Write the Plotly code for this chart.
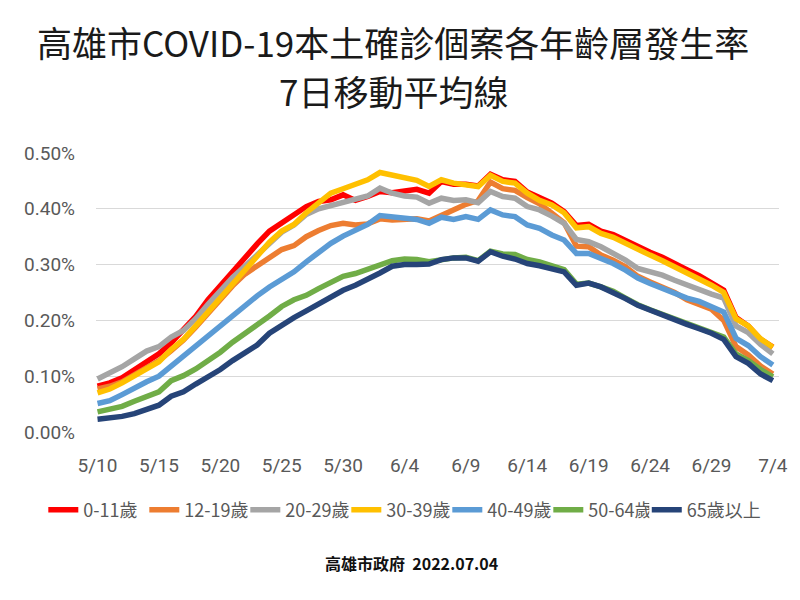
import plotly.graph_objects as go
import pandas as pd

dates = [d.strftime("%Y-%m-%d") for d in pd.date_range("2022-05-10", "2022-07-04", freq="D")]
tick_dates = dates[::5]
tick_labels = ["5/10", "5/15", "5/20", "5/25", "5/30", "6/4", "6/9", "6/14", "6/19", "6/24", "6/29", "7/4"]

series_names = ["0-11歲", "12-19歲", "20-29歲", "30-39歲", "40-49歲", "50-64歲", "65歲以上"]
series_colors = ["#FF0000", "#ED7D31", "#A5A5A5", "#FFC000", "#5B9BD5", "#70AD47", "#264478"]

age_0_11 = [0.082, 0.088, 0.097, 0.112, 0.127, 0.140, 0.160, 0.182, 0.207, 0.237,
            0.262, 0.290, 0.313, 0.337, 0.360, 0.374, 0.388, 0.404, 0.413, 0.416,
            0.425, 0.415, 0.422, 0.431, 0.429, 0.432, 0.435, 0.428, 0.449, 0.444,
            0.444, 0.441, 0.462, 0.452, 0.449, 0.430, 0.419, 0.410, 0.395, 0.370,
            0.372, 0.360, 0.354, 0.343, 0.332, 0.322, 0.313, 0.301, 0.291, 0.280,
            0.268, 0.254, 0.205, 0.190, 0.166, 0.152]
age_12_19 = [0.077, 0.082, 0.090, 0.103, 0.117, 0.128, 0.146, 0.165, 0.188, 0.213,
             0.238, 0.262, 0.283, 0.298, 0.315, 0.327, 0.334, 0.350, 0.361, 0.370,
             0.374, 0.371, 0.373, 0.382, 0.380, 0.382, 0.382, 0.378, 0.388, 0.399,
             0.408, 0.415, 0.448, 0.436, 0.433, 0.420, 0.409, 0.392, 0.375, 0.333,
             0.332, 0.317, 0.308, 0.296, 0.279, 0.269, 0.260, 0.250, 0.237, 0.228,
             0.220, 0.200, 0.153, 0.138, 0.118, 0.104]
age_20_29 = [0.095, 0.105, 0.117, 0.131, 0.145, 0.153, 0.170, 0.182, 0.203, 0.229,
             0.253, 0.277, 0.297, 0.318, 0.340, 0.358, 0.371, 0.390, 0.400, 0.406,
             0.412, 0.416, 0.423, 0.437, 0.428, 0.423, 0.421, 0.410, 0.419, 0.415,
             0.416, 0.411, 0.431, 0.422, 0.419, 0.404, 0.398, 0.387, 0.374, 0.345,
             0.341, 0.332, 0.320, 0.308, 0.293, 0.287, 0.281, 0.272, 0.263, 0.256,
             0.247, 0.240, 0.190, 0.178, 0.157, 0.140]
age_30_39 = [0.070, 0.077, 0.088, 0.100, 0.114, 0.126, 0.148, 0.166, 0.190, 0.215,
             0.241, 0.265, 0.290, 0.316, 0.340, 0.360, 0.372, 0.393, 0.412, 0.428,
             0.436, 0.443, 0.452, 0.465, 0.461, 0.456, 0.451, 0.440, 0.452, 0.446,
             0.443, 0.440, 0.460, 0.449, 0.446, 0.428, 0.415, 0.407, 0.393, 0.366,
             0.368, 0.356, 0.349, 0.338, 0.326, 0.317, 0.307, 0.296, 0.286, 0.275,
             0.263, 0.250, 0.203, 0.190, 0.167, 0.152]
age_40_49 = [0.051, 0.056, 0.067, 0.079, 0.090, 0.100, 0.118, 0.138, 0.155, 0.172,
             0.190, 0.208, 0.228, 0.244, 0.260, 0.274, 0.287, 0.305, 0.322, 0.338,
             0.351, 0.362, 0.372, 0.388, 0.385, 0.382, 0.381, 0.374, 0.385, 0.381,
             0.386, 0.381, 0.398, 0.389, 0.386, 0.371, 0.365, 0.353, 0.344, 0.320,
             0.320, 0.311, 0.302, 0.290, 0.276, 0.266, 0.257, 0.249, 0.240, 0.234,
             0.225, 0.215, 0.168, 0.155, 0.135, 0.120]
age_50_64 = [0.036, 0.040, 0.046, 0.055, 0.064, 0.072, 0.092, 0.101, 0.113, 0.127,
             0.143, 0.161, 0.178, 0.192, 0.208, 0.225, 0.237, 0.245, 0.257, 0.267,
             0.279, 0.284, 0.291, 0.300, 0.307, 0.310, 0.309, 0.305, 0.309, 0.312,
             0.313, 0.307, 0.324, 0.319, 0.318, 0.309, 0.305, 0.298, 0.291, 0.265,
             0.267, 0.260, 0.252, 0.240, 0.228, 0.219, 0.211, 0.202, 0.194, 0.186,
             0.178, 0.170, 0.140, 0.128, 0.112, 0.099]
age_65_up = [0.023, 0.025, 0.028, 0.033, 0.040, 0.048, 0.064, 0.072, 0.086, 0.098,
             0.112, 0.128, 0.143, 0.156, 0.177, 0.192, 0.205, 0.217, 0.229, 0.243,
             0.254, 0.263, 0.273, 0.285, 0.297, 0.300, 0.300, 0.301, 0.309, 0.312,
             0.312, 0.306, 0.323, 0.315, 0.310, 0.302, 0.298, 0.293, 0.287, 0.263,
             0.267, 0.260, 0.250, 0.239, 0.227, 0.218, 0.210, 0.201, 0.193, 0.185,
             0.177, 0.166, 0.135, 0.123, 0.104, 0.092]

all_series = [age_0_11, age_12_19, age_20_29, age_30_39, age_40_49, age_50_64, age_65_up]

y_ticks = [0.0, 0.1, 0.2, 0.3, 0.4, 0.5]
y_tick_labels = ["0.00%", "0.10%", "0.20%", "0.30%", "0.40%", "0.50%"]

fig = go.Figure()
for i, (name, color, vals) in enumerate(zip(series_names, series_colors, all_series)):
    fig.add_trace(go.Scatter(
        x=dates, y=vals, name=name, mode="lines",
        line=dict(color=color, width=5.5),
        legend="legend2" if i == len(series_names) - 1 else "legend",
        hovertemplate="%{x}<br>%{y:.3f}%<extra>" + name + "</extra>",
    ))

axis_font = dict(family="Roboto, sans-serif", size=19, color="#595959")
legend_font = dict(family="Noto Sans CJK TC, sans-serif", size=18, color="#595959")

# figure is shown with an 8px page margin, so the figure is 792x592
L, T, PW, PH = 88, 145, 687, 279


def px(fx):
    return (fx - L) / PW


def py(fy):
    return (T + PH - fy) / PH


fig.update_layout(
    width=792, height=592,
    margin=dict(l=L, r=792 - L - PW, t=T, b=592 - T - PH),
    paper_bgcolor="white", plot_bgcolor="white",
    showlegend=True,
    legend=dict(
        orientation="h", x=px(35), xanchor="left", y=py(502), yanchor="middle",
        entrywidth=56, entrywidthmode="pixels", itemwidth=30,
        font=legend_font, traceorder="normal", bgcolor="rgba(0,0,0,0)",
    ),
    legend2=dict(
        orientation="h", x=px(642), xanchor="left", y=py(502), yanchor="middle",
        itemwidth=30, font=legend_font, bgcolor="rgba(0,0,0,0)",
    ),
    xaxis=dict(
        type="date",
        range=["2022-05-09 21:00", "2022-07-04 12:00"],
        tickvals=tick_dates, ticktext=tick_labels,
        showgrid=False, zeroline=False, showline=False,
        ticks="", ticklabelstandoff=20,
        tickfont=axis_font,
    ),
    yaxis=dict(
        range=[0, 0.5],
        tickvals=y_ticks, ticktext=y_tick_labels,
        showgrid=True, gridcolor="#D9D9D9", gridwidth=1,
        zeroline=False, showline=False, ticks="",
        ticklabelstandoff=20,
        tickfont=axis_font,
    ),
    annotations=[
        dict(text="高雄市COVID-19本土確診個案各年齡層發生率", xref="paper", yref="paper",
             x=px(387), y=py(34), xanchor="center", yanchor="middle",
             showarrow=False, font=dict(family="Noto Sans CJK TC, sans-serif", size=35, color="#1a1a1a")),
        dict(text="7日移動平均線", xref="paper", yref="paper",
             x=px(387), y=py(82), xanchor="center", yanchor="middle",
             showarrow=False, font=dict(family="Noto Sans CJK TC, sans-serif", size=35, color="#1a1a1a")),
        dict(text="<b>高雄市政府  2022.07.04</b>", xref="paper", yref="paper",
             x=px(405), y=py(555), xanchor="center", yanchor="middle",
             showarrow=False, font=dict(family="Noto Sans CJK TC, sans-serif", size=16, color="#111111")),
    ],
)

fig.write_html("out.html")
